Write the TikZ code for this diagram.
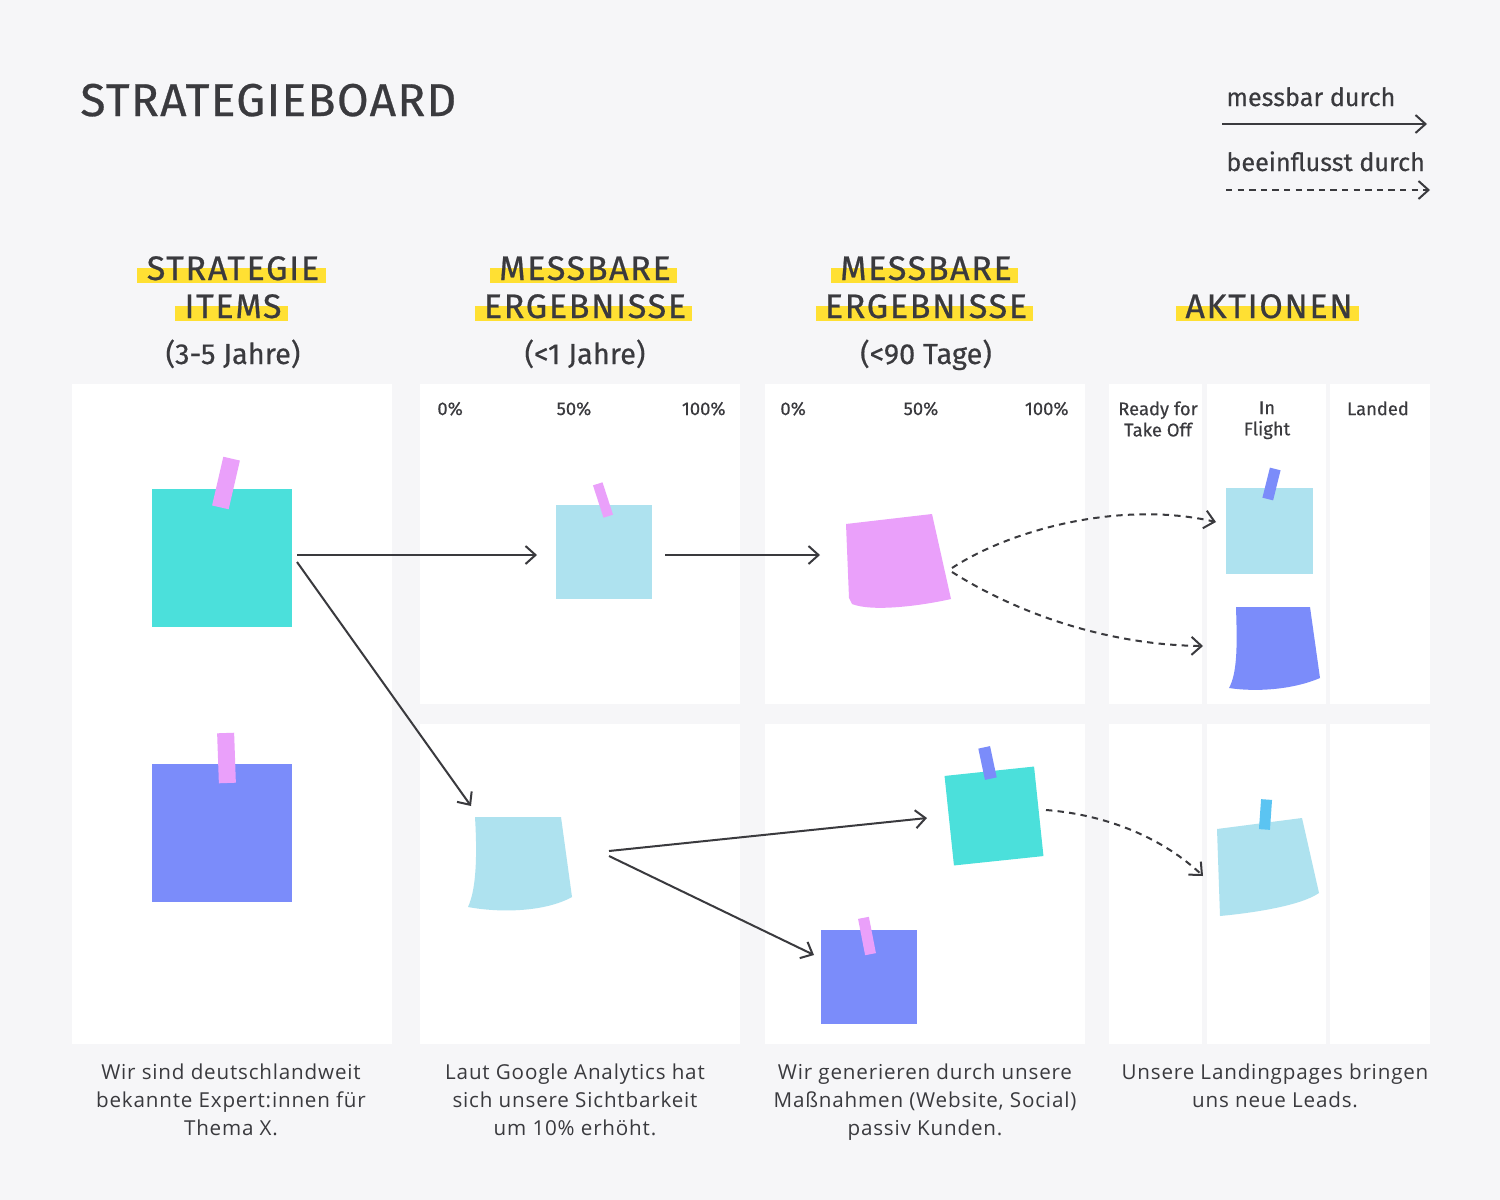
\documentclass[tikz,border=0pt]{standalone}
\usepackage{fontspec}
\setmainfont{Open Sans}
\newfontfamily\titlefont[LetterSpace=3,FakeBold=0.6]{Fira Sans}
\newfontfamily\headfont[LetterSpace=5,FakeBold=0.6]{Fira Sans}
\newfontfamily\labelfont[FakeBold=0.4]{Fira Sans}
\newfontfamily\bodyfont[LetterSpace=4]{Open Sans}
\usepackage{tikz}
\usetikzlibrary{positioning,arrows.meta,calc,backgrounds}
\usepackage{xcolor}
\definecolor{boardbg}{RGB}{246,246,248}
\definecolor{ink}{RGB}{58,58,62}
\definecolor{noteteal}{RGB}{75,224,219}
\definecolor{noteviolet}{RGB}{123,140,250}
\definecolor{noteblue}{RGB}{174,226,239}
\definecolor{notepink}{RGB}{234,160,250}
\definecolor{notesky}{RGB}{91,196,242}
\definecolor{marker}{RGB}{255,224,51}
\newcommand{\hilite}[1]{\fill[marker] ($(#1.base west)+(-9,3)$) rectangle ($(#1.base east)+(6,-12)$);}

\begin{document}
\begin{tikzpicture}[x=0.5pt,y=-0.5pt,>={Straight Barb[length=5pt,width=9pt]},
  panel/.style={fill=white},
  title/.style={inner sep=0,text=ink,font=\titlefont\fontsize{23}{26}\selectfont},
  head/.style={inner sep=0,anchor=base,text=ink,font=\headfont\fontsize{17}{20}\selectfont},
  sub/.style={inner sep=0,anchor=base,text=ink,font=\labelfont\fontsize{14.5}{17}\selectfont},
  lbl/.style={inner sep=0,text=ink,font=\labelfont\fontsize{9.2}{10.6}\selectfont},
  legend/.style={inner sep=0,anchor=base west,text=ink,font=\labelfont\fontsize{12.6}{15}\selectfont},
  desc/.style={inner sep=0,anchor=north,align=center,text=ink,font=\bodyfont\fontsize{10.3}{14}\selectfont},
  note/.style={draw=none,inner sep=0,rectangle},
  tape/.style={draw=none,inner sep=0,rectangle},
  link/.style={->,ink,line width=1pt},
  hint/.style={->,ink,line width=1pt,dash pattern=on 3.2pt off 2.6pt}]

% board
\begin{scope}[on background layer]
\fill[boardbg] (0,0) rectangle (1500,1200);
\end{scope}
\useasboundingbox (0,0) rectangle (1500,1200);

\fill[panel] (72,384) rectangle (392,1044);
\foreach \a/\b in {420/740,765/1085,1109/1202,1207/1326,1330/1430}
  \foreach \t/\u in {384/704,724/1044}
    \fill[panel] (\a,\t) rectangle (\b,\u);

% title and legend
\node[title,anchor=base west] (ttl) at (80,116) {STRATEGIEBOARD};
\node[legend] (lg1) at (1226,106) {messbar durch};
\node[legend] (lg2) at (1226,171) {beeinflusst durch};
\coordinate (lg1a) at (1222,124);
\coordinate (lg1b) at (1427,124);
\coordinate (lg2a) at (1226,190);
\coordinate (lg2b) at (1430,190);
\draw[link] (lg1a) -- (lg1b);
\draw[hint] (lg2a) -- (lg2b);

% column heads
\node[head] (h1a) at (233,280) {STRATEGIE};
\node[head] (h1b) at (233,318) {ITEMS};
\node[sub]  (h1c) at (233,364) {(3-5 Jahre)};
\node[head] (h2a) at (585,280) {MESSBARE};
\node[head] (h2b) at (585,318) {ERGEBNISSE};
\node[sub]  (h2c) at (585,364) {(<1 Jahre)};
\node[head] (h3a) at (926,280) {MESSBARE};
\node[head] (h3b) at (926,318) {ERGEBNISSE};
\node[sub]  (h3c) at (926,364) {(<90 Tage)};
\node[head] (h4a) at (1269,318) {AKTIONEN};
\begin{scope}[on background layer]
\hilite{h1a} \hilite{h1b} \hilite{h2a} \hilite{h2b}
\hilite{h3a} \hilite{h3b} \hilite{h4a}
\end{scope}

% scale and lane labels
\node[lbl,anchor=base west] (p1a) at (437,415) {0\%};
\node[lbl,anchor=base]      (p1b) at (574,415) {50\%};
\node[lbl,anchor=base east] (p1c) at (726,415) {100\%};
\node[lbl,anchor=base west] (p2a) at (780,415) {0\%};
\node[lbl,anchor=base]      (p2b) at (921,415) {50\%};
\node[lbl,anchor=base east] (p2c) at (1069,415) {100\%};
\node[lbl,anchor=north,align=center] (ln1) at (1158,401) {Ready for\\Take Off};
\node[lbl,anchor=north,align=center] (ln2) at (1267,401) {In\\Flight};
\node[lbl,anchor=north,align=center] (ln3) at (1378,401) {Landed};

% notes
\node[note,fill=noteteal,minimum width=70pt,minimum height=69pt] (n1) at (222,558) {};
\node[note,fill=noteviolet,minimum width=70pt,minimum height=69pt] (n2) at (222,833) {};
\node[note,fill=noteblue,minimum width=48pt,minimum height=47pt] (n3) at (604,552) {};
\fill[notepink] (846,524) -- (932,514) -- (951,599)
  .. controls (920,606) and (872,612) .. (852,604) -- (849,598) -- cycle;
\fill[noteblue] (475,817) -- (561,817) -- (572,897)
  .. controls (545,912) and (500,913) .. (468,907)
  .. controls (477,888) and (477,850) .. (475,817) -- cycle;
\node[note,fill=noteviolet,minimum width=48pt,minimum height=47pt] (n6) at (869,977) {};
\node[note,fill=noteteal,minimum width=45pt,minimum height=45pt,rotate=6] (n7) at (994,816) {};
\fill[noteblue] (1217,829) -- (1302,818) -- (1319,893)
  .. controls (1300,906) and (1252,913) .. (1220,916) -- cycle;
\node[note,fill=noteblue,minimum width=43.5pt,minimum height=43pt] (n9) at (1269.5,531) {};
\fill[noteviolet] (1236,607) -- (1310,607) -- (1320,678)
  .. controls (1292,690) and (1255,692) .. (1229,688)
  .. controls (1238,672) and (1237,640) .. (1236,607) -- cycle;

% tapes
\node[tape,fill=notepink,minimum width=8.5pt,minimum height=25pt,rotate=-13] (t1) at (226,483) {};
\node[tape,fill=notepink,minimum width=8.5pt,minimum height=25pt,rotate=2] (t2) at (226.5,758) {};
\node[tape,fill=notepink,minimum width=5pt,minimum height=17pt,rotate=18] (t3) at (603,500) {};
\node[tape,fill=notepink,minimum width=5.5pt,minimum height=18.5pt,rotate=11] (t6) at (867,936) {};
\node[tape,fill=noteviolet,minimum width=6pt,minimum height=16pt,rotate=12] (t7) at (987.5,763) {};
\node[tape,fill=notesky,minimum width=5.5pt,minimum height=15pt,rotate=-4] (t8) at (1265.5,814.5) {};
\node[tape,fill=noteviolet,minimum width=5.5pt,minimum height=15.5pt,rotate=-14] (t9) at (1271.5,484) {};

% connector ends
\coordinate (n1-r) at (297,555);
\coordinate (n1-d) at (297,562);
\coordinate (n3-l) at (537,555);
\coordinate (n3-r) at (665,555);
\coordinate (n4-l) at (820,555);
\coordinate (n4-a) at (952,568);
\coordinate (n4-b) at (952,572);
\coordinate (n5-u) at (471,806);
\coordinate (n5-a) at (609,851);
\coordinate (n5-b) at (609,856);
\coordinate (n6-u) at (814,955);
\coordinate (n7-l) at (927,818);
\coordinate (n7-r) at (1046,810);
\coordinate (n8-l) at (1203,876);
\coordinate (n9-l) at (1216,522);
\coordinate (n10-l) at (1203,646);

\draw[link] (n1-r) -- (n3-l);
\draw[link] (n1-d) -- (n5-u);
\draw[link] (n3-r) -- (n4-l);
\draw[link] (n5-a) -- (n7-l);
\draw[link] (n5-b) -- (n6-u);
\draw[hint] (n4-a) .. controls (1010,530) and (1120,500) .. (n9-l);
\draw[hint] (n4-b) .. controls (1020,615) and (1110,645) .. (n10-l);
\draw[hint] (n7-r) .. controls (1110,815) and (1165,840) .. (n8-l);

% descriptions
\node[desc] (d1) at (231,1063) {Wir sind deutschlandweit\\bekannte Expert:innen für\\Thema X.};
\node[desc] (d2) at (575,1063) {Laut Google Analytics hat\\sich unsere Sichtbarkeit\\um 10\% erhöht.};
\node[desc] (d3) at (925,1063) {Wir generieren durch unsere\\Maßnahmen (Website, Social)\\passiv Kunden.};
\node[desc] (d4) at (1275,1063) {Unsere Landingpages bringen\\uns neue Leads.};
\end{tikzpicture}
\end{document}
